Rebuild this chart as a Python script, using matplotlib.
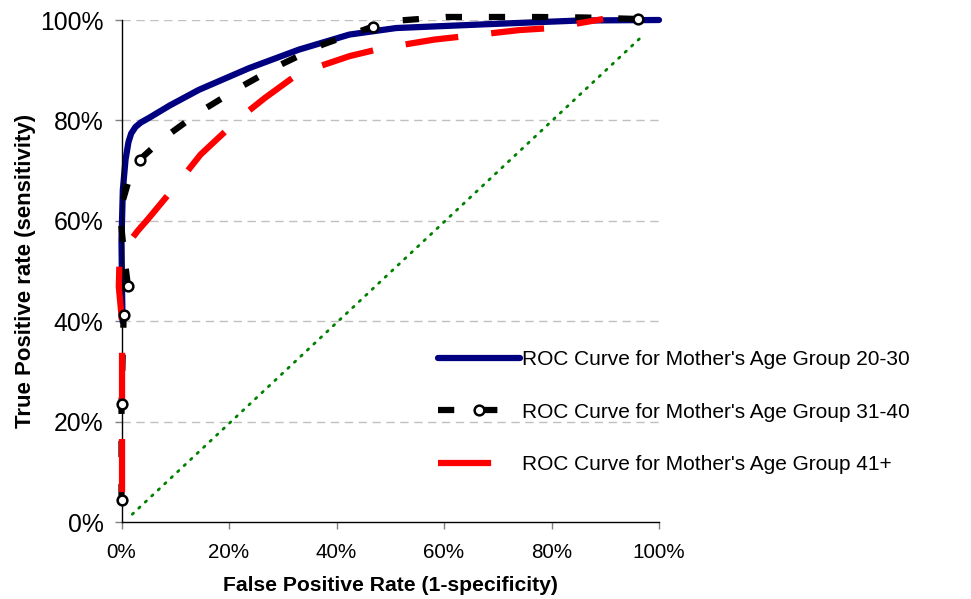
import matplotlib
matplotlib.use('Agg')
import matplotlib.pyplot as plt
from matplotlib.lines import Line2D
from matplotlib.ticker import PercentFormatter

plt.rcParams['font.family'] = ['Liberation Sans', 'DejaVu Sans']

# values (FPR, TPR)
fpr_20_30 = [0.002, 0.001, 0.000, 0.0025, 0.0075, 0.013, 0.018, 0.026, 0.036, 0.051, 0.090, 0.144,
             0.237, 0.330, 0.424, 0.511, 0.666, 0.852, 1.000]
tpr_20_30 = [0.400, 0.463, 0.562, 0.662, 0.722, 0.757, 0.774, 0.787, 0.796, 0.805, 0.830, 0.861,
             0.904, 0.941, 0.971, 0.984, 0.991, 0.999, 1.000]

fpr_31_40 = [0.000, 0.000, 0.004, 0.012, 0.005, -0.003, 0.020, 0.034, 0.076, 0.147,
             0.222, 0.296, 0.374, 0.468, 0.517, 0.604, 0.690, 0.774, 0.862, 0.961]
tpr_31_40 = [0.044, 0.235, 0.413, 0.471, 0.530, 0.620, 0.705, 0.722, 0.763, 0.818,
             0.867, 0.911, 0.951, 0.987, 0.999, 1.006, 1.006, 1.006, 1.005, 1.002]
marker_idx_31_40 = [0, 1, 2, 3, 7, 13, 19]

fpr_41 = [0.001, 0.001, -0.005, -0.004, 0.013, 0.030, 0.048, 0.107, 0.147, 0.220,
          0.267, 0.330, 0.424, 0.486, 0.582, 0.641, 0.741, 0.800, 0.896]
tpr_41 = [0.060, 0.400, 0.469, 0.509, 0.556, 0.580, 0.602, 0.678, 0.732, 0.805,
          0.845, 0.894, 0.928, 0.944, 0.961, 0.968, 0.980, 0.984, 1.002]

diag_x = [0.02, 0.972]
diag_y = [0.016, 0.971]

labels = ["ROC Curve for Mother's Age Group 20-30",
          "ROC Curve for Mother's Age Group 31-40",
          "ROC Curve for Mother's Age Group 41+"]

fig = plt.figure(figsize=(9.71, 5.99), dpi=100)
ax = fig.add_axes([121.5 / 971, 1 - 522.3 / 599, (659 - 121.5) / 971, (522.3 - 20) / 599])

ax.set_xlim(0, 1)
ax.set_ylim(0, 1)
ax.set_yticks([0, 0.2, 0.4, 0.6, 0.8, 1.0])
ax.set_xticks([0, 0.2, 0.4, 0.6, 0.8, 1.0])
ax.xaxis.set_major_formatter(PercentFormatter(1.0, decimals=0))
ax.yaxis.set_major_formatter(PercentFormatter(1.0, decimals=0))

for yv in [0.2, 0.4, 0.6, 0.8, 1.0]:
    ax.axhline(yv, color='#c0c0c0', lw=1, dashes=(6, 4), zorder=0)

ax.plot(diag_x, diag_y, color='#008000', lw=2, dashes=(0.6, 2.6),
        dash_capstyle='round', zorder=1, clip_on=False)

l1, = ax.plot(fpr_20_30, tpr_20_30, color='#000080', lw=4.5,
              solid_capstyle='round', solid_joinstyle='round', zorder=2, clip_on=False)
l2, = ax.plot(fpr_31_40, tpr_31_40, color='black', lw=4.5, dashes=(2.6, 4.3),
              zorder=3, clip_on=False)
l3, = ax.plot(fpr_41, tpr_41, color='red', lw=4.5, dashes=(8.5, 5.3),
              zorder=4, clip_on=False)
ax.plot([fpr_31_40[i] for i in marker_idx_31_40], [tpr_31_40[i] for i in marker_idx_31_40],
        ls='none', marker='o', ms=7, mfc='white', mec='black', mew=1.8, zorder=5, clip_on=False)

proxy = Line2D([], [], color='black', lw=4.5, dashes=(2.6, 4.3),
               marker='o', ms=7, mfc='white', mec='black', mew=1.8)

for s in ['top', 'right']:
    ax.spines[s].set_visible(False)
for s in ['left', 'bottom']:
    ax.spines[s].set_color('black')
    ax.spines[s].set_linewidth(1)

ax.tick_params(axis='y', direction='out', length=5, width=1, color='#808080',
               labelsize=17.8, pad=8)
ax.tick_params(axis='x', direction='out', length=5, width=1, color='#808080',
               labelsize=14.9, pad=10)

ax.set_xlabel('False Positive Rate (1-specificity)', fontsize=15.2, fontweight='bold', labelpad=10)
ax.set_ylabel('True Positive rate (sensitivity)', fontsize=16, fontweight='bold', labelpad=3)

fig.legend([l1, proxy, l3], labels, loc='center left',
           bbox_to_anchor=(430 / 971, 1 - 412 / 599), frameon=False,
           fontsize=15, handlelength=3.9, handletextpad=0.1, labelspacing=1.6,
           borderaxespad=0)

fig.savefig('out.png', dpi=100)
